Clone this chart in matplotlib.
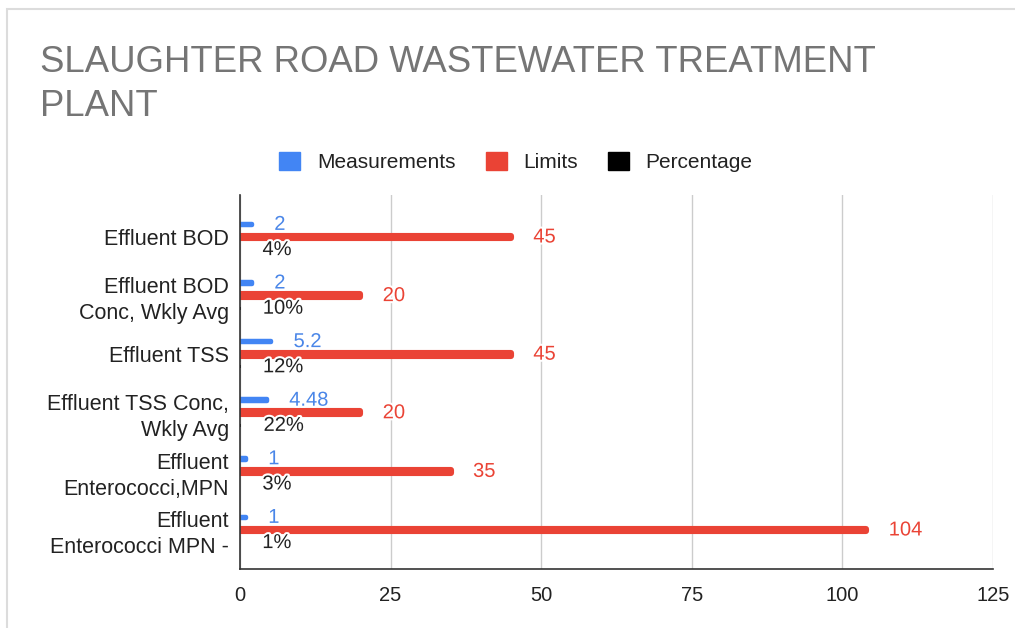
import numpy as np
import matplotlib.pyplot as plt
import matplotlib.patheffects as pe
from matplotlib.patches import Patch, Rectangle

plt.rcParams['font.family'] = ['Liberation Sans', 'DejaVu Sans']

categories = ['Effluent BOD', 'Effluent BOD\nConc, Wkly Avg', 'Effluent TSS',
              'Effluent TSS Conc,\nWkly Avg', 'Effluent\nEnterococci,MPN',
              'Effluent\nEnterococci MPN -']
measurements = [2, 2, 5.2, 4.48, 1, 1]
meas_labels = ['2', '2', '5.2', '4.48', '1', '1']
limits = [45, 20, 45, 20, 35, 104]
percentage = [0.04, 0.10, 0.12, 0.22, 0.03, 0.01]
pct_labels = ['4%', '10%', '12%', '22%', '3%', '1%']
xticks = [0, 25, 50, 75, 100, 125]

blue = '#4285F4'
red = '#EA4335'

fig = plt.figure(figsize=(10.15, 6.28), dpi=100)
W, H = 1015, 628

# light frame of the sheet chart
fig.add_artist(Rectangle((7 / W, -0.1), 1.2, (1 - 9 / H) + 0.1, transform=fig.transFigure,
                         fill=False, edgecolor='#dcdcdc', lw=1.5))

ax = fig.add_axes([240 / W, 1 - 569 / H, (993 - 240) / W, (569 - 195) / H])

y = np.arange(len(categories))
off = 0.215

# thin bars with a thick rounded edge give the rounded look
ax.barh(y - off, measurements, height=0.03, color=blue, edgecolor=blue, lw=3.2,
        joinstyle='round', zorder=3)
ax.barh(y, limits, height=0.05, color=red, edgecolor=red, lw=4.4,
        joinstyle='round', zorder=3)
ax.barh(y + off, percentage, height=0.05, color='black', zorder=3)

halo = [pe.withStroke(linewidth=3, foreground='white')]
for i in range(len(categories)):
    ax.annotate(meas_labels[i], (measurements[i], y[i] - off), xytext=(16, 0),
                textcoords='offset points', ha='left', va='center', fontsize=14.5,
                color='#4a86e8', path_effects=halo, zorder=5)
    ax.annotate(str(limits[i]), (limits[i], y[i]), xytext=(16, 0),
                textcoords='offset points', ha='left', va='center', fontsize=14.5,
                color=red, path_effects=halo, zorder=5)
    ax.annotate(pct_labels[i], (percentage[i], y[i] + off), xytext=(16, 0),
                textcoords='offset points', ha='left', va='center', fontsize=14.5,
                color='#222222', path_effects=halo, zorder=5)

ax.set_xlim(0, 125)
ax.set_ylim(5.666, -0.717)
ax.set_xticks(xticks)
ax.set_yticks(y)
ax.set_yticklabels(categories, fontsize=15.5, color='#222222', linespacing=1.3)
ax.tick_params(axis='x', length=0, pad=12, labelsize=14.5, labelcolor='#222222')
ax.tick_params(axis='y', length=0, pad=8)
ax.grid(axis='x', color='#cccccc', lw=1, zorder=0)
for s in ['top', 'right']:
    ax.spines[s].set_visible(False)
for s in ['left', 'bottom']:
    ax.spines[s].set_color('#333333')
    ax.spines[s].set_linewidth(1.2)
    ax.spines[s].set_zorder(4)

fig.text(40 / W, 1 - 45 / H, 'SLAUGHTER ROAD WASTEWATER TREATMENT\nPLANT',
         fontsize=26.3, color='#757575', ha='left', va='top', linespacing=1.32)

handles = [Patch(color=blue, label='Measurements'),
           Patch(color=red, label='Limits'),
           Patch(color='black', label='Percentage')]
fig.legend(handles=handles, loc='center', bbox_to_anchor=(516 / W, 1 - 162 / H),
           ncol=3, frameon=False, fontsize=15, handlelength=1.0, handleheight=1.0,
           handletextpad=0.8, columnspacing=1.45, labelcolor='#222222')

fig.savefig('out.png', dpi=100)
